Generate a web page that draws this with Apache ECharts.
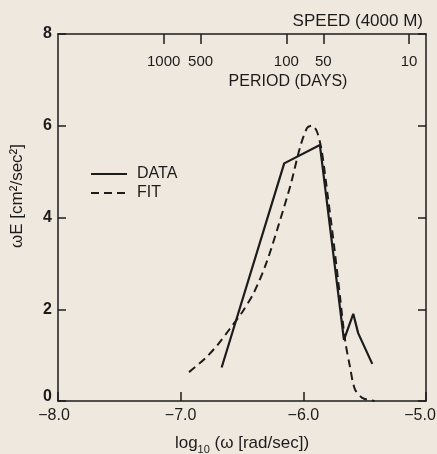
<!DOCTYPE html>
<html>
<head>
<meta charset="utf-8">
<script src="https://cdn.jsdelivr.net/npm/echarts@6/dist/echarts.min.js"></script>
<style>
  html, body { margin: 0; padding: 0; background: #eee8de; }
  #main { width: 437px; height: 454px; }
</style>
</head>
<body>
<div id="main"></div>
<script>
// 观测数据 (log10 ω , ωE)
var dataX = [-6.666, -6.156, -5.865, -5.669, -5.593, -5.553, -5.438];
var dataY = [0.73, 5.18, 5.58, 1.33, 1.90, 1.48, 0.81];
// 拟合曲线
var fitX = [-6.932, -6.80, -6.70, -6.60, -6.50, -6.40, -6.30, -6.20, -6.10, -6.03, -5.97, -5.93, -5.89, -5.85, -5.80, -5.75, -5.70, -5.66, -5.62, -5.58, -5.52, -5.42];
var fitY = [0.63, 0.93, 1.22, 1.57, 1.93, 2.38, 3.02, 3.85, 4.75, 5.50, 5.95, 6.00, 5.88, 5.45, 4.45, 3.40, 2.25, 1.33, 0.75, 0.26, 0.07, 0];
// 坐标刻度
var xTicks = [-8, -7, -6, -5];
var yTicks = [0, 2, 4, 6, 8];
var periodDays = [1000, 500, 100, 50, 10];

var ink = '#1c1c1c';
var font = 'Liberation Sans';

function pairs(xs, ys) {
  return xs.map(function (x, i) { return [x, ys[i]]; });
}
// 周期(天) -> log10(ω rad/s)
var periodPos = periodDays.map(function (d) {
  return Math.log10(2 * Math.PI / (d * 86400));
});

var myChart = echarts.init(document.getElementById('main'));
var option = {
  backgroundColor: '#eee8de',
  animation: false,
  title: {
    text: 'SPEED (4000 M)',
    right: 9, top: 8,
    textStyle: { color: ink, fontFamily: font, fontSize: 17, fontWeight: 'normal' }
  },
  grid: { left: 58, right: 11, top: 34, bottom: 53, outerBoundsMode: 'none' },
  legend: {
    orient: 'vertical',
    left: 85, top: 161,
    itemWidth: 36, itemHeight: 10, itemGap: 3,
    itemStyle: { opacity: 0 },
    textStyle: { color: ink, fontFamily: font, fontSize: 16, padding: [0, 0, 0, 5] },
    data: ['DATA', 'FIT']
  },
  xAxis: [{
    type: 'value',
    min: xTicks[0], max: xTicks[xTicks.length - 1], interval: 1,
    splitLine: { show: false },
    axisLine: { onZero: false, lineStyle: { color: ink, width: 1.5 } },
    axisTick: { inside: true, length: 9, lineStyle: { color: ink, width: 1.5 } },
    axisLabel: {
      color: ink, fontFamily: font, fontSize: 16, margin: 7,
      formatter: function (v) {
        var s = (v < 0 ? '\u2212' : '') + Math.abs(v).toFixed(1);
        if (v === xTicks[0]) return '{a|' + s + '}';
        if (v === xTicks[xTicks.length - 1]) return '{b|' + s + '}';
        return s;
      },
      rich: {
        a: { fontSize: 16, fontFamily: font, color: ink, padding: [0, 8, 0, 0] },
        b: { fontSize: 16, fontFamily: font, color: ink, padding: [0, 12, 0, 0] }
      }
    },
    name: 'log{s|10} (\u03c9 [rad/sec])',
    nameLocation: 'middle', nameGap: 31,
    nameTextStyle: {
      color: ink, fontFamily: font, fontSize: 17,
      rich: { s: { fontSize: 11, fontFamily: font, color: ink, padding: [12, 0, 0, 0] } }
    }
  }, {
    type: 'value',
    position: 'top',
    min: xTicks[0], max: xTicks[xTicks.length - 1],
    splitLine: { show: false },
    axisLine: { onZero: false, lineStyle: { color: ink, width: 1.5 } },
    axisTick: { inside: true, length: 10, customValues: periodPos, lineStyle: { color: ink, width: 1.5 } },
    axisLabel: {
      inside: true, margin: 20, customValues: periodPos,
      color: ink, fontFamily: font, fontSize: 15,
      formatter: function (v) {
        var best = 0;
        periodPos.forEach(function (p, i) {
          if (Math.abs(p - v) < Math.abs(periodPos[best] - v)) best = i;
        });
        return String(periodDays[best]);
      }
    }
  }],
  yAxis: [{
    type: 'value',
    min: yTicks[0], max: yTicks[yTicks.length - 1], interval: 2,
    splitLine: { show: false },
    axisLine: { show: true, onZero: false, lineStyle: { color: ink, width: 1.5 } },
    axisTick: { show: true, inside: true, length: 8, lineStyle: { color: ink, width: 1.5 } },
    axisLabel: {
      color: ink, fontFamily: font, fontSize: 16, fontWeight: 'bold', margin: 6,
      formatter: function (v) { return v === 0 ? '{z|0}' : String(v); },
      rich: { z: { fontSize: 16, fontFamily: font, fontWeight: 'bold', color: ink, padding: [0, 0, 9, 0] } }
    }
  }, {
    type: 'value',
    position: 'right',
    min: yTicks[0], max: yTicks[yTicks.length - 1], interval: 2,
    splitLine: { show: false },
    axisLine: { show: true, onZero: false, lineStyle: { color: ink, width: 1.5 } },
    axisTick: { show: true, inside: true, length: 8, lineStyle: { color: ink, width: 1.5 } },
    axisLabel: { show: false }
  }],
  graphic: [{
    type: 'text',
    x: 17, y: 196,
    rotation: Math.PI / 2,
    style: {
      text: '\u03c9E [cm\u00b2/sec\u00b2]',
      fill: ink, font: '17px "Liberation Sans"',
      align: 'center', verticalAlign: 'middle'
    }
  }, {
    type: 'text',
    x: 288, y: 82,
    style: {
      text: 'PERIOD (DAYS)',
      fill: ink, font: '16px "Liberation Sans"',
      align: 'center', verticalAlign: 'middle'
    }
  }],
  series: [{
    name: 'DATA',
    type: 'line',
    symbol: 'none',
    data: pairs(dataX, dataY),
    lineStyle: { color: ink, width: 2.2 },
    itemStyle: { color: ink }
  }, {
    name: 'FIT',
    type: 'line',
    symbol: 'none',
    smooth: 0.3,
    data: pairs(fitX, fitY),
    lineStyle: { color: ink, width: 2, type: [8, 5] },
    itemStyle: { color: ink }
  }]
};
myChart.setOption(option);
</script>
</body>
</html>
